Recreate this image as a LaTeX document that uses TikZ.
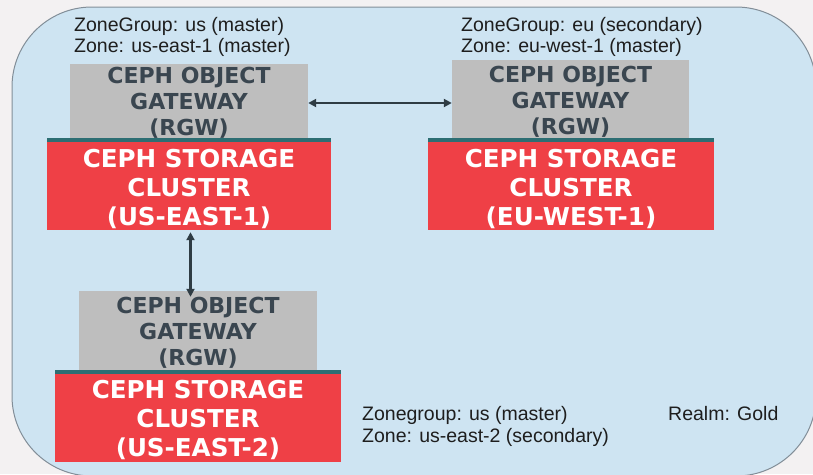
\documentclass[tikz,border=0pt]{standalone}
\usepackage{fontspec}
\setmainfont{Liberation Sans}
\newfontfamily\boxfont{DejaVu Sans}
\usetikzlibrary{arrows.meta}
\definecolor{outbg}{RGB}{243,241,242}
\definecolor{realmbg}{RGB}{206,228,242}
\definecolor{realmline}{RGB}{130,142,152}
\definecolor{gwgray}{RGB}{190,190,190}
\definecolor{gwtext}{RGB}{58,70,80}
\definecolor{cephred}{RGB}{239,64,70}
\definecolor{tealline}{RGB}{45,110,115}
\definecolor{arrowc}{RGB}{47,60,68}
\definecolor{labtext}{RGB}{30,30,30}
\begin{document}
\begin{tikzpicture}[x=1pt,y=-1pt,
  gwbox/.style={fill=gwgray, inner sep=0pt, minimum width=#1},
  clbox/.style={fill=cephred, inner sep=0pt, minimum width=#1, minimum height=92pt},
  gwtxt/.style={inner sep=0pt, align=center, text=gwtext, font=\boxfont\bfseries\fontsize{22}{26}\selectfont},
  cltxt/.style={inner sep=0pt, align=center, text=white, font=\boxfont\bfseries\fontsize{24.6}{29}\selectfont},
  lab/.style={anchor=base west, inner sep=0pt, text=labtext, font=\fontsize{19.5}{21.5}\selectfont},
  link/.style={draw=arrowc, line width=2.5pt, {Triangle[length=8pt,width=8pt]}-{Triangle[length=8pt,width=8pt]}}
]
\path[use as bounding box, clip] (0,0) rectangle (813,474);
\fill[outbg] (0,0) rectangle (813,474);
\draw[fill=realmbg, draw=realmline, line width=1pt, rounded corners=80pt] (12,7) rectangle (816,476);

% gateways
\node[gwbox=238pt, minimum height=74pt] (gw1) at (189,101) {};
\node[gwbox=237pt, minimum height=78pt] (gw2) at (570.5,99) {};
\node[gwbox=238pt, minimum height=79pt] (gw3) at (198,330.5) {};
% clusters
\node[clbox=284pt] (cl1) at (189,184) {};
\node[clbox=286pt] (cl2) at (571,184) {};
\node[clbox=286pt] (cl3) at (198,416) {};
\foreach \c in {cl1,cl2,cl3}
  \fill[tealline] (\c.north west) rectangle ([yshift=-4pt]\c.north east);

% box texts
\node[gwtxt] (gw1t) at (189,102.5) {CEPH OBJECT\\GATEWAY\\(RGW)};
\node[gwtxt] (gw2t) at (570.5,102) {CEPH OBJECT\\GATEWAY\\(RGW)};
\node[gwtxt] (gw3t) at (198,332.8) {CEPH OBJECT\\GATEWAY\\(RGW)};
\node[cltxt] (cl1t) at (189,188.7) {CEPH STORAGE\\CLUSTER\\(US-EAST-1)};
\node[cltxt] (cl2t) at (571,188.7) {CEPH STORAGE\\CLUSTER\\(EU-WEST-1)};
\node[cltxt] (cl3t) at (198,419.7) {CEPH STORAGE\\CLUSTER\\(US-EAST-2)};

% labels
\node[lab] (l1a) at (74,31) {ZoneGroup: us (master)};
\node[lab] (l1b) at (74,52) {Zone: us-east-1 (master)};
\node[lab] (l2a) at (461,31) {ZoneGroup: eu (secondary)};
\node[lab] (l2b) at (461,52) {Zone: eu-west-1 (master)};
\node[lab] (l3a) at (362,420) {Zonegroup: us (master)};
\node[lab] (l3b) at (362,442) {Zone: us-east-2 (secondary)};
\node[lab] (realm) at (668,420) {Realm: Gold};

% connectors
\draw[link] ([yshift=-2pt]gw1.east) -- ([yshift=-2pt]gw1.east -| gw2.west);
\draw[link] ([xshift=1.5pt,yshift=-2pt]cl1.south) -- ([xshift=1.5pt,yshift=-6pt]cl1.south |- gw3.north);
\end{tikzpicture}
\end{document}
